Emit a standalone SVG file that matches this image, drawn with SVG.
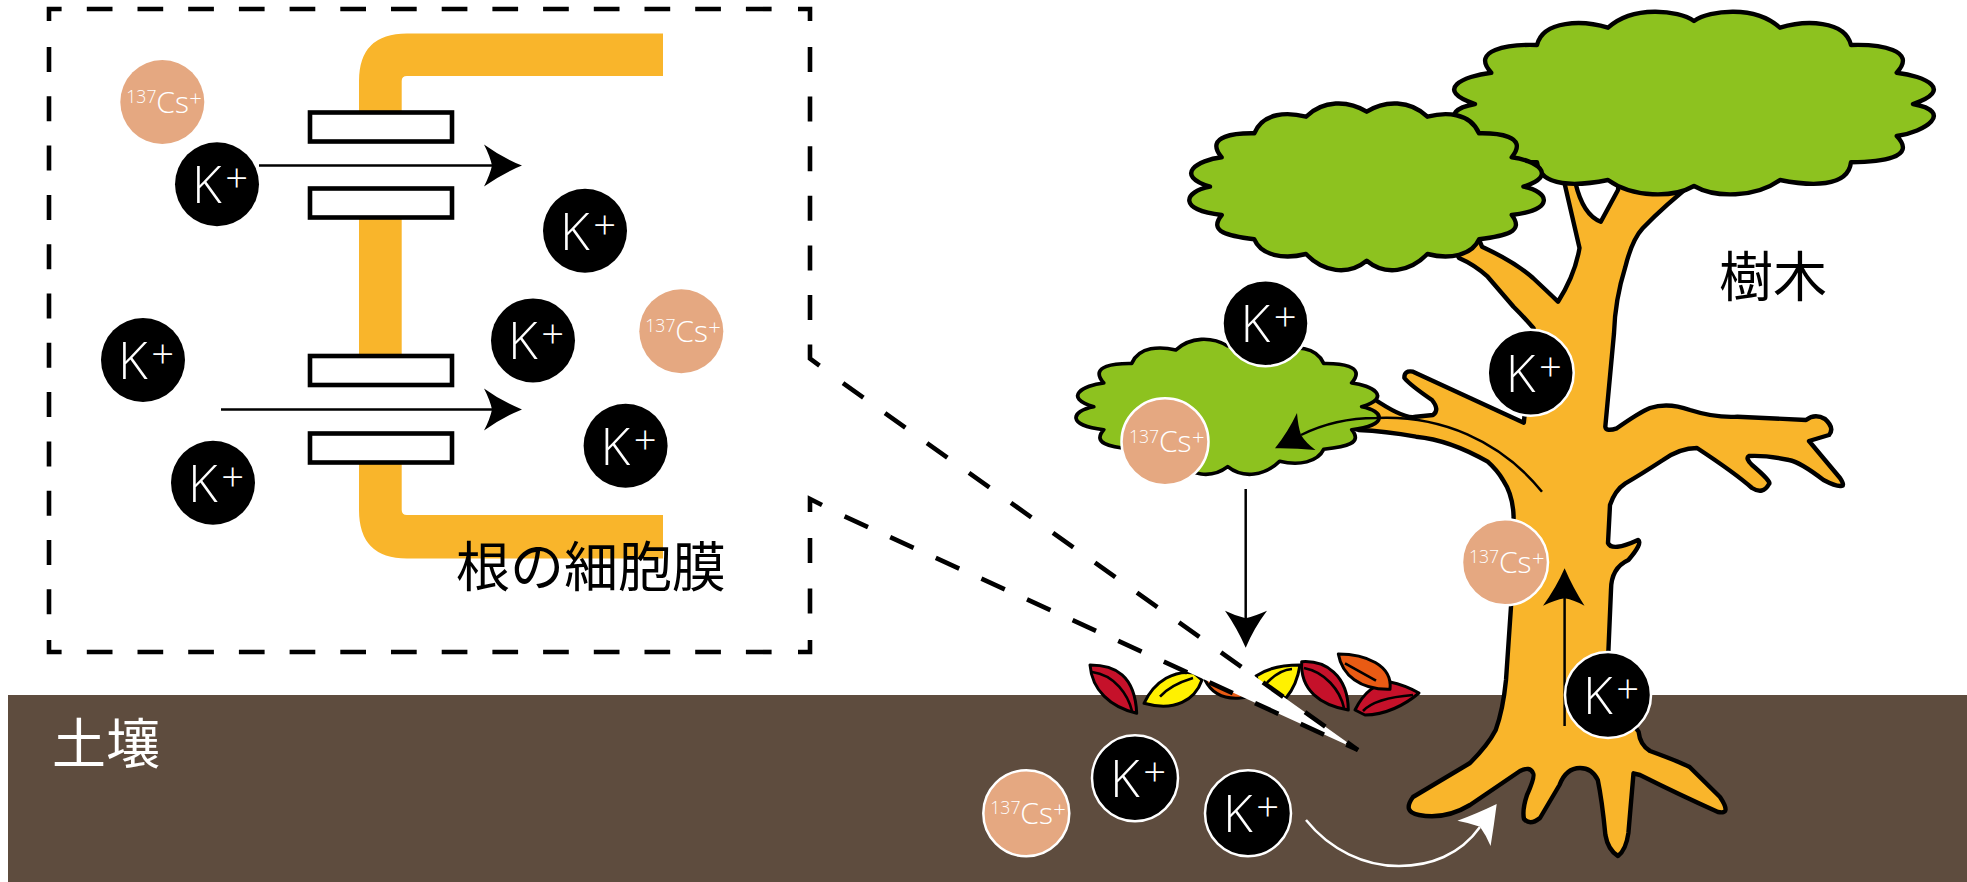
<svg xmlns="http://www.w3.org/2000/svg" xmlns:xlink="http://www.w3.org/1999/xlink" width="1967" height="882" viewBox="0 0 1967 882">
<style>
  .ink{stroke:#000;fill:none}
  .dash{stroke:#000;stroke-width:4.6;fill:none}
  .ion-k{fill:#000}
  .ion-cs{fill:#e5a881}
  .ring{stroke:#fff;stroke-width:2.5}
  .lbl{font-family:"Open Sans","Noto Sans",sans-serif;fill:#fff;font-weight:300}
  .jp{font-family:"Noto Sans CJK JP",sans-serif;font-size:54px;font-weight:400}
  .leaf{stroke:#000;stroke-width:3;stroke-linejoin:round}
  .vein{stroke:#000;stroke-width:2.6;fill:none}
  .crown{fill:#8dc21f;stroke:#000;stroke-width:4.4;stroke-linejoin:round}
  .channel{fill:#fff;stroke:#000;stroke-width:4.6}
  .k1{font-size:51px}
  .k2{font-size:40px}
  .c1{font-size:30px}
  .c2{font-size:17.6px}
  .c3{font-size:22px}
</style>
<defs>
  <path id="crown" d="M1366.7,111.7 C1385,100 1410,100 1427.4,116.7 C1445,112 1470,112 1479,133.3 C1495,133 1530,135 1511.7,157.3 C1535,160 1560,175 1523.4,186.7 C1550,192 1555,210 1511.7,215 C1525,232 1505,236 1479,239.3 C1472,255 1450,260 1427.4,254 C1410,272 1385,276 1366.7,260.7 C1348,276 1323,272 1306,254 C1283,260 1261,255 1254.3,239.3 C1228,236 1208,232 1221.7,215 C1178,210 1183,192 1210,186.7 C1173,175 1198,160 1221.7,157.3 C1203,135 1238,133 1254.3,133.3 C1263,112 1288,112 1306,116.7 C1323,100 1348,100 1366.7,111.7 Z"/>
</defs>

<rect id="soil" x="8" y="695" width="1959" height="187" fill="#5e4c3e"/>

<g id="litter">
  <path class="leaf" fill="#c5112a" d="M1090,665 C1115,665 1135,675 1136.7,713.3 C1110,707 1092,690 1090,665 Z"/>
  <path class="vein" d="M1092,672 C1115,675 1128,695 1132,711"/>
  <path class="leaf" fill="#fff100" d="M1144,703.3 C1155,680 1175,670 1194,673 L1202,680 C1195,700 1175,712 1144,703.3 Z"/>
  <path class="vein" d="M1160,696.7 Q1170,685 1193,678"/>
  <path class="leaf" fill="#e95b14" d="M1205,680 Q1215,700 1240,698 L1265,695 L1240,670 Z"/>
  <path class="leaf" fill="#fff100" d="M1256,676 Q1272,665 1300,665 Q1297,685 1286,698 L1260,690 Z"/>
  <path class="vein" d="M1292,669 Q1278,670 1265,685"/>
  <path class="leaf" fill="#c5112a" d="M1355,710 C1365,690 1375,685 1390,682 C1400,684 1410,688 1419,693 C1405,705 1385,715 1365,715 Z"/>
  <path class="vein" d="M1363,711 Q1375,698 1413,695"/>
  <path class="leaf" fill="#c5112a" d="M1301.7,661.7 C1325,660 1348,675 1348.3,710 C1320,705 1300,690 1301.7,661.7 Z"/>
  <path class="vein" d="M1304,668 C1325,672 1340,690 1344,708"/>
  <path class="leaf" fill="#e95b14" d="M1338.3,654 C1365,654 1393,665 1390,689.3 C1360,690 1342,675 1338.3,654 Z"/>
  <path class="vein" d="M1345,663.3 L1376,680.7"/>
</g>

<g id="tree">
  <path fill="#f9b52b" stroke="#000" stroke-width="4.4" stroke-linejoin="round" d="M1697,180 Q1665,205 1642.7,228.3 Q1632,240 1625.4,266.7 Q1615,300 1614,333.3 L1605.3,426.7 Q1606,432 1616.8,428.3 Q1640,412 1650,408 Q1668,402 1690,410 Q1715,418 1737.4,416.7 L1806,420 Q1815,413 1825,419 Q1835,428 1829,435 L1809,441 L1840,478 Q1846,487 1840,486 Q1835,486 1823.5,480 Q1800,462 1789,460 Q1765,455 1749,456 Q1745,458 1752,465 Q1772,482 1769,484 Q1763,495 1752,488 Q1735,473 1697,448 Q1680,448 1663,460 Q1640,475 1625.4,483.3 Q1615,490 1610,505 L1608,543 Q1612,552 1638,540 Q1643,543 1628.4,560 Q1611,568 1611,590 L1608,660 L1630,720 L1638.6,731.7 Q1640,745 1650,751 Q1680,762 1689.6,767 L1720,797 Q1732,815 1718,812 Q1680,795 1640,775 L1633.5,773.3 L1628.4,833 Q1626,850 1618,856 Q1608,850 1605.4,835 Q1602,800 1597.8,780 Q1592,768 1580,768 Q1566,768 1559.5,785 L1540,818 Q1530,826 1524,819 Q1522,810 1527,795 Q1536,775 1533,773 Q1530,766 1520,771 L1470,805 Q1445,820 1419,815 Q1402,812 1413,797 L1470,763 Q1488,745 1495.7,730 Q1503,710 1506,680 L1511,606.7 L1513.6,516.7 Q1513,495 1503,480 Q1497,470 1487.7,461.7 Q1450,440 1416,436.7 Q1385,431 1358.5,430 L1340,425 L1360,390 L1372.9,398.3 Q1405,420 1416,416.7 L1433,415 Q1440,410 1432,400 Q1410,385 1404.4,378 Q1404,370 1413,371.7 L1523.8,422.7 L1533.6,328.3 Q1522,315 1513.5,306.7 L1487.7,276.7 Q1475,265 1459,258 L1450,240 L1475,230 L1482,246.7 Q1515,262 1533,278 Q1548,292 1558,301.7 Q1575,275 1579.5,248 L1564,181 L1560,170 L1572,170 L1575.5,183 Q1583,215 1600.8,221.7 L1618,190 L1620,170 Z"/>
  <path class="crown" d="M1694,21 C1710,10 1755,5 1780,27.7 C1805,20 1845,20 1851,45 C1880,44 1918,50 1896.7,72.7 C1925,76 1955,90 1913,104 C1955,112 1925,132 1896.7,136 C1918,158 1880,162 1851,162.3 C1848,188 1810,186 1780,180 C1755,198 1715,198 1694,186 C1673,198 1633,198 1608,180 C1578,186 1540,188 1537,162.3 C1508,162 1470,158 1491.3,136 C1463,132 1433,112 1475,104 C1433,90 1463,76 1491.3,72.7 C1470,50 1508,44 1537,45 C1543,20 1583,20 1608,27.7 C1633,5 1678,10 1694,21 Z"/>
  <use xlink:href="#crown" href="#crown" class="crown"/>
  <use xlink:href="#crown" href="#crown" class="crown" transform="translate(59.2,255.5) scale(.855,.81)"/>
</g>

<g id="label-soil"><text class="jp" x="52" y="764" fill="#fff">土壤</text></g>
<g id="label-tree"><text class="jp" x="1719" y="297" fill="#000">樹木</text></g>

<path id="callout-wedge" d="M810,358.7 L1358,750 L810,499 Z" fill="#fff"/>

<g id="callout-frame">
  <path class="dash" d="M61.6,9 H49 V21"/>
  <path class="dash" stroke-dasharray="25.7 25" d="M86.8,9 H772"/>
  <path class="dash" d="M798,9 H810 V21"/>
  <path class="dash" stroke-dasharray="25 24.6" d="M810,47 V346"/>
  <path class="dash" d="M810,346 V358.7 L819.5,365.6"/>
  <path class="dash" stroke-dasharray="25 26.56" d="M843,383.2 L1358,750"/>
  <path class="dash" d="M810,512 V499 L822,505"/>
  <path class="dash" stroke-dasharray="25.7 24.4" d="M844.6,516.4 L1358,750"/>
  <path class="dash" stroke-dasharray="25 25.6" d="M810,538 V614"/>
  <path class="dash" d="M810,640 V652 H798"/>
  <path class="dash" stroke-dasharray="25.7 25" d="M86.8,652 H772"/>
  <path class="dash" d="M61.6,652 H49 V640"/>
  <path class="dash" stroke-dasharray="25 24.3" d="M49,47 V615"/>
</g>

<g id="membrane">
  <path fill="#f9b52b" d="M663,33.4 H407 Q359,33.4 359,81 V115 H401.7 V81 Q401.7,76 407,76 H663 Z"/>
  <rect x="359" y="215" width="42.7" height="145" fill="#f9b52b"/>
  <path fill="#f9b52b" d="M663,558.5 H407 Q359,558.5 359,510 V460 H401.7 V510 Q401.7,515 407,515 H663 Z"/>
  <rect class="channel" x="310" y="112.5" width="142" height="29"/>
  <rect class="channel" x="310" y="188.5" width="142" height="29"/>
  <rect class="channel" x="310" y="356" width="142" height="29"/>
  <rect class="channel" x="310" y="433.5" width="142" height="29"/>
  <text class="jp" x="456" y="587" fill="#000">根の細胞膜</text>
</g>

<g id="connectors">
  <path class="ink" stroke-width="2.5" d="M259,165.6 H495"/>
  <path d="M522,165.6 Q503,173 484,186.5 Q490,175 492,165.6 Q490,156 484,144.4 Q503,158 522,165.6 Z"/>
  <path class="ink" stroke-width="2.5" d="M221,409.4 H495"/>
  <path d="M522,409.4 Q503,417 484,430.5 Q490,419 492,409.4 Q490,400 484,388.4 Q503,402 522,409.4 Z"/>
  <path class="ink" stroke-width="2.5" d="M1245.7,489 V625"/>
  <path d="M1245.7,647.7 Q1237,628 1225,610.7 Q1236,616 1245.7,618.3 Q1255,616 1267,610.7 Q1254,628 1245.7,647.7 Z"/>
  <path class="ink" stroke-width="2.5" d="M1564.6,726 V590"/>
  <path d="M1564.6,568.3 Q1556,588 1543,605.7 Q1555,600 1564.6,598.3 Q1574,600 1584.5,605.7 Q1573,588 1564.6,568.3 Z"/>
  <path class="ink" stroke-width="2.5" d="M1542,491.7 C1500,440 1440,415 1376,418 Q1335,418 1301,435"/>
  <path d="M1275,448.3 Q1288,432 1297,413 Q1298,426 1301,435 Q1306,443 1315.5,450 Q1295,448 1275,448.3 Z"/>
  <path fill="none" stroke="#fff" stroke-width="2.5" d="M1306,820 C1330,850 1365,866 1399,866 C1430,866 1460,855 1480,827"/>
  <path fill="#fff" d="M1496.7,804 Q1476,814 1457.4,820.7 Q1470,823 1480,826.7 Q1486,835 1490.6,846 Q1494,825 1496.7,804 Z"/>
</g>

<g id="k-out-1"><circle class="ion-k" cx="217" cy="184.3" r="42"/><text class="lbl" transform="translate(217,184.3)"><tspan class="k1" x="-25" y="19">K</tspan><tspan class="k2" x="8.2" y="7.8">+</tspan></text></g>
<g id="k-out-2"><circle class="ion-k" cx="143" cy="360" r="42"/><text class="lbl" transform="translate(143,360)"><tspan class="k1" x="-25" y="19">K</tspan><tspan class="k2" x="8.2" y="7.8">+</tspan></text></g>
<g id="k-out-3"><circle class="ion-k" cx="213" cy="482.7" r="42"/><text class="lbl" transform="translate(213,482.7)"><tspan class="k1" x="-25" y="19">K</tspan><tspan class="k2" x="8.2" y="7.8">+</tspan></text></g>
<g id="k-in-1"><circle class="ion-k" cx="585" cy="230.7" r="42"/><text class="lbl" transform="translate(585,230.7)"><tspan class="k1" x="-25" y="19">K</tspan><tspan class="k2" x="8.2" y="7.8">+</tspan></text></g>
<g id="k-in-2"><circle class="ion-k" cx="533" cy="340.4" r="42"/><text class="lbl" transform="translate(533,340.4)"><tspan class="k1" x="-25" y="19">K</tspan><tspan class="k2" x="8.2" y="7.8">+</tspan></text></g>
<g id="k-in-3"><circle class="ion-k" cx="625.6" cy="445.8" r="42"/><text class="lbl" transform="translate(625.6,445.8)"><tspan class="k1" x="-25" y="19">K</tspan><tspan class="k2" x="8.2" y="7.8">+</tspan></text></g>
<g id="cs-out"><circle class="ion-cs" cx="162.3" cy="102" r="42"/><text class="lbl" transform="translate(162.3,102)"><tspan class="c2" x="-36" y="1">137</tspan><tspan class="c1" x="-6" y="10.7">Cs</tspan><tspan class="c3" x="27" y="3.5">+</tspan></text></g>
<g id="cs-in"><circle class="ion-cs" cx="681.3" cy="331.3" r="42"/><text class="lbl" transform="translate(681.3,331.3)"><tspan class="c2" x="-36" y="1">137</tspan><tspan class="c1" x="-6" y="10.7">Cs</tspan><tspan class="c3" x="27" y="3.5">+</tspan></text></g>

<g id="k-canopy"><circle class="ion-k ring" cx="1265.5" cy="323.3" r="43"/><text class="lbl" transform="translate(1265.5,323.3)"><tspan class="k1" x="-25" y="19">K</tspan><tspan class="k2" x="8.2" y="7.8">+</tspan></text></g>
<g id="cs-canopy"><circle class="ion-cs ring" cx="1165" cy="441.7" r="43.5"/><text class="lbl" transform="translate(1165,441.7)"><tspan class="c2" x="-36" y="1">137</tspan><tspan class="c1" x="-6" y="10.7">Cs</tspan><tspan class="c3" x="27" y="3.5">+</tspan></text></g>
<g id="k-branch"><circle class="ion-k ring" cx="1530.7" cy="372.7" r="43"/><text class="lbl" transform="translate(1530.7,372.7)"><tspan class="k1" x="-25" y="19">K</tspan><tspan class="k2" x="8.2" y="7.8">+</tspan></text></g>
<g id="cs-trunk"><circle class="ion-cs ring" cx="1505" cy="562.3" r="43"/><text class="lbl" transform="translate(1505,562.3)"><tspan class="c2" x="-36" y="1">137</tspan><tspan class="c1" x="-6" y="10.7">Cs</tspan><tspan class="c3" x="27" y="3.5">+</tspan></text></g>
<g id="k-trunk"><circle class="ion-k ring" cx="1608" cy="695" r="43"/><text class="lbl" transform="translate(1608,695)"><tspan class="k1" x="-25" y="19">K</tspan><tspan class="k2" x="8.2" y="7.8">+</tspan></text></g>
<g id="k-soil-1"><circle class="ion-k ring" cx="1135" cy="778.3" r="43"/><text class="lbl" transform="translate(1135,778.3)"><tspan class="k1" x="-25" y="19">K</tspan><tspan class="k2" x="8.2" y="7.8">+</tspan></text></g>
<g id="k-soil-2"><circle class="ion-k ring" cx="1248" cy="813.3" r="43"/><text class="lbl" transform="translate(1248,813.3)"><tspan class="k1" x="-25" y="19">K</tspan><tspan class="k2" x="8.2" y="7.8">+</tspan></text></g>
<g id="cs-soil"><circle class="ion-cs ring" cx="1026.3" cy="813.3" r="43"/><text class="lbl" transform="translate(1026.3,813.3)"><tspan class="c2" x="-36" y="1">137</tspan><tspan class="c1" x="-6" y="10.7">Cs</tspan><tspan class="c3" x="27" y="3.5">+</tspan></text></g>
</svg>
